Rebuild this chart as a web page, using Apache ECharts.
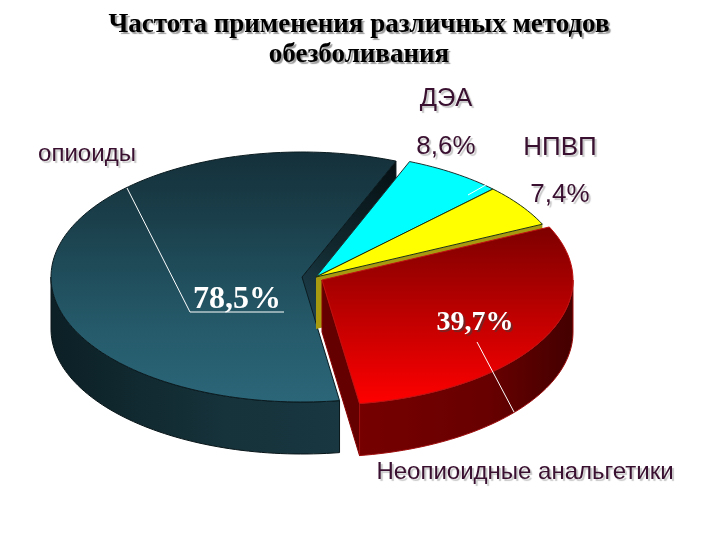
<!DOCTYPE html>
<html><head><meta charset="utf-8">
<style>html,body{margin:0;padding:0;background:#fff}#c{width:720px;height:540px}</style>
<script src="https://cdn.jsdelivr.net/npm/echarts@6/dist/echarts.min.js"></script>
</head><body><div id="c"></div>
<script>
const chartTitle = 'Частота применения различных методов\nобезболивания';
const categories = ['опиоиды', 'ДЭА', 'НПВП', 'Неопиоидные анальгетики'];
const values = [78.5, 8.6, 7.4, 39.7];
const valueLabels = ['78,5%', '8,6%', '7,4%', '39,7%'];

const START_ANGLE = 278.6, RX = 250, RY = 124.5, DEPTH = 52;
const G = echarts.graphic.LinearGradient;
const total = values.reduce((a, b) => a + b, 0);

const sliceStyle = [
  { cx: 302, cy: 277, rx: 251, ry: 125,
    top: new G(0,0,0,1,[{offset:0,color:'#14303a'},{offset:.3,color:'#1b414d'},{offset:.7,color:'#255a6a'},{offset:1,color:'#2b6678'}]), stroke:'#0b1c21',
    wall: new G(0,0,1,0,[{offset:0,color:'#0c2026'},{offset:.6,color:'#16323a'},{offset:1,color:'#183741'}]),
    face: new G(1,0,0,1,[{offset:0,color:'#050f12'},{offset:.55,color:'#12292f'},{offset:1,color:'#22485a'}]) },
  { cx: 316, cy: 277, top:'#00ffff', stroke:'#1c3030' },
  { cx: 316, cy: 277, top:'#ffff00', stroke:'#1c3010', face:'#a89a10' },
  { cx: 322, cy: 280, rx: 251, ry: 125,
    top: new G(0,0,0,1,[{offset:0,color:'#7d0000'},{offset:1,color:'#ff0000'}]), stroke:'#c01010',
    wall: new G(0,0,1,0,[{offset:0,color:'#760000'},{offset:.6,color:'#680000'},{offset:1,color:'#440000'}]),
    inner:'#640000' }
];
const labelStyle = [
  { name:[87,154], val:[237,300], serif:32, nameSize:24, flat:true },
  { name:[446,99], val:[446,147], nameSize:25.5, valSize:26 },
  { name:[560,148], val:[560,195], nameSize:26, valSize:26 },
  { name:[525,472], val:[475,323], serif:28, nameSize:24 }
];
const leaders = [
  [[127,188],[190,312],[284,312]],
  [[468,195],[491,182]],
  null,
  [[477,342],[514,412]]
];

function pt(s, deg, dz) {
  const a = deg * Math.PI / 180;
  return [s.cx + (s.rx||RX) * Math.cos(a), s.cy - (s.ry||RY) * Math.sin(a) + (dz||0)];
}
function arc(s, a0, a1, dz) {
  const n = Math.max(2, Math.ceil(Math.abs(a1 - a0) / 1.5)), p = [];
  for (let i = 0; i <= n; i++) p.push(pt(s, a0 + (a1 - a0) * i / n, dz));
  return p;
}
function poly(points, fill, stroke, lw) {
  return { type:'polygon', shape:{ points }, style:{ fill, stroke: stroke||'none', lineWidth: lw||1 } };
}
function txt(text, at, size, fill, serif, flat) {
  return { type:'text', style:{ text, x:at[0], y:at[1], align:'center', verticalAlign:'middle',
    fontFamily: serif ? '"Liberation Serif"' : '"Liberation Sans"', fontWeight: serif ? 'bold':'normal',
    fontSize:size, fill, textShadowColor: flat ? 'transparent' : (serif ? 'rgba(60,60,60,.6)' : 'rgba(175,175,175,.7)'),
    textShadowOffsetX:2, textShadowOffsetY:2, textShadowBlur:1 } };
}

function renderItem(params, api) {
  const i = params.dataIndex;
  let a0 = START_ANGLE;
  for (let k = 0; k < i; k++) a0 -= values[k] / total * 360;
  const v = api.value(0), a1 = a0 - v / total * 360;
  const s = sliceStyle[i], c = [s.cx, s.cy], kids = [];
  const topPts = [c].concat(arc(s, a0, a1));
  if (i === 0) {
    kids.push(poly(arc(s, a0, 180).concat(arc(s, 180, a0, DEPTH)), s.wall, '#081518'));
    const e = pt(s, a1), D = DEPTH + 10;
    kids.push(poly([c, e, [e[0], e[1] + D], [c[0], c[1] + D]], s.face, '#081518'));
  }
  if (i === 2) {
    const e = pt(s, a1);
    kids.push(poly([c, e, [e[0], e[1] + DEPTH], [c[0], c[1] + DEPTH]], s.face));
  }
  if (i === 3) {
    const e = pt(s, a1);
    kids.push(poly([c, e, [e[0], e[1] + DEPTH], [c[0], c[1] + DEPTH]], s.inner, '#8a0000'));
    kids.push(poly(arc(s, 0, a1).concat(arc(s, a1, 0, DEPTH)), s.wall, '#a01010'));
  }
  kids.push(poly(topPts, s.top, s.stroke));
  if (leaders[i]) kids.push({ type:'polyline', shape:{ points: leaders[i] }, style:{ stroke:'#fff', lineWidth:1, fill:'none' } });
  const l = labelStyle[i];
  kids.push(txt(categories[i], l.name, l.nameSize, '#3a1030'));
  kids.push(txt(valueLabels[i], l.val, l.serif || l.valSize, l.serif ? '#fff' : '#3a1030', !!l.serif, l.flat));
  return { type:'group', children: kids };
}

const chart = echarts.init(document.getElementById('c'), null, { renderer:'canvas' });
chart.setOption({
  animation:false,
  backgroundColor:'#fff',
  title:{ text:chartTitle, left:354, top:5, textAlign:'center',
    textStyle:{ fontFamily:'"Liberation Serif"', fontWeight:'bold', fontSize:27, lineHeight:30, color:'#000',
      textShadowColor:'rgba(130,130,130,.8)', textShadowOffsetX:2, textShadowOffsetY:2, textShadowBlur:1 } },
  series:[{ type:'custom', coordinateSystem:'none', renderItem,
    data: values.map((v, i) => [v, i]) }]
});
</script></body></html>
